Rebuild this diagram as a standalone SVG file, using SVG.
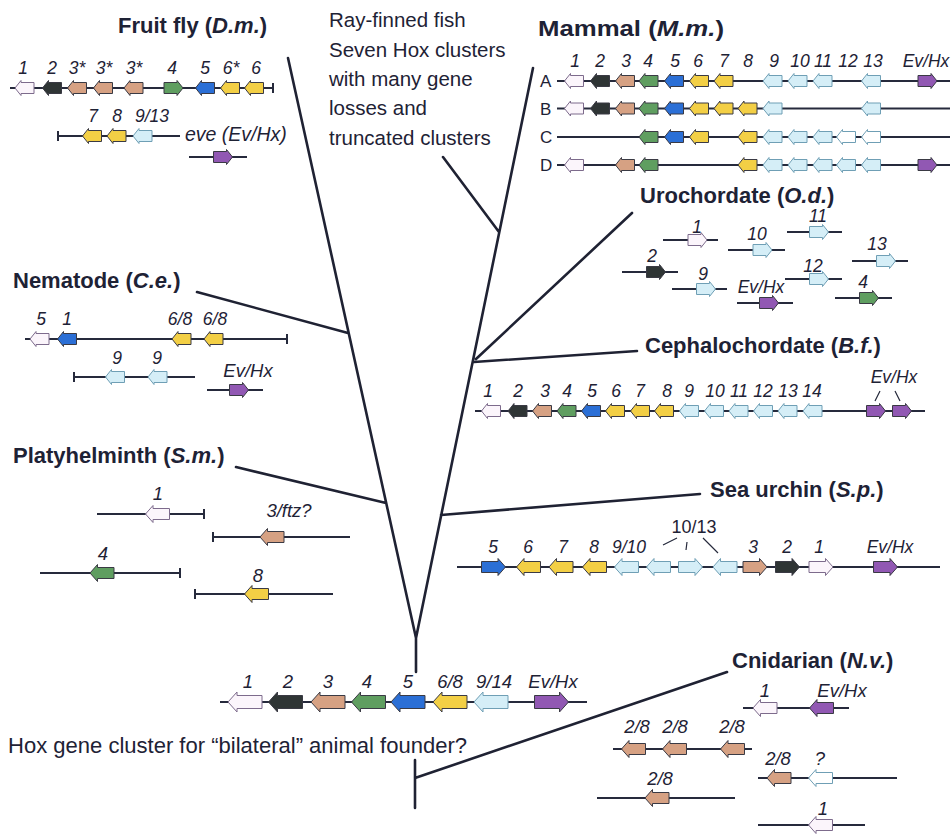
<svg xmlns="http://www.w3.org/2000/svg" xmlns:xlink="http://www.w3.org/1999/xlink" width="951" height="834" viewBox="0 0 951 834">
<style>
text{font-family:"Liberation Sans",Arial,sans-serif;fill:#1e2235}
.t{font-weight:bold;font-size:22px}
.i{font-style:italic}
.n{font-style:italic;font-size:17.5px;text-anchor:middle}
.nb{font-style:italic;font-size:18.5px;text-anchor:middle}
.f{font-size:20.5px}
.ln{stroke:#262a3c;stroke-width:2;fill:none}
.th{stroke:#262a3c;stroke-width:1.2;fill:none}
.tr{stroke:#1f2233;stroke-width:2.6;fill:none;stroke-linecap:round}
use{stroke:#3a3a44;stroke-width:1}
.c1{fill:#fbf5fb;stroke:#7d6b8c}
.c2{fill:#2f3535}
.c3{fill:#d6a183}
.c4{fill:#5f9e60}
.c5{fill:#2b6fd6}
.c6{fill:#f3cf45}
.c9{fill:#d5eef7;stroke:#6f9fb5}
.cw{fill:#ffffff;stroke:#6f9fb5}
.ce{fill:#9158b3}
</style>
<defs>
<path id="sR" d="M-9.5,-5.5H3.5V-7.5L9.5,0L3.5,7.5V5.5H-9.5Z"/>
<path id="sL" d="M9.5,-5.5H-3.5V-7.5L-9.5,0L-3.5,7.5V5.5H9.5Z"/>
<path id="mR" d="M-12,-5.5H4.5V-8.5L12,0L4.5,8.5V5.5H-12Z"/>
<path id="mL" d="M12,-5.5H-4.5V-8.5L-12,0L-4.5,8.5V5.5H12Z"/>
<path id="lR" d="M-17,-6.5H8V-10L17,0L8,10V6.5H-17Z"/>
<path id="lL" d="M17,-6.5H-8V-10L-17,0L-8,10V6.5H17Z"/>
</defs>

<g id="connectors">
<path class="tr" d="M288,58L416,638M533,68L416,638M416,638V672M415,760V808M443,157L499,232M197,292L348,333M236,467L386,503M632,213L476,359M474,362L637,351M441,515L700,494M415,778L727,672"/>
</g>

<g id="fruitfly">
<text class="t" x="118" y="33">Fruit fly (<tspan class="i">D.m.</tspan>)</text>
<path class="ln" d="M10,88H273M273,83V93M58,131V141M58,136H180M189,157H247"/>
<use href="#sL" class="c1" x="24.5" y="88"/>
<use href="#sL" class="c2" x="52" y="88"/>
<use href="#sL" class="c3" x="77" y="88"/>
<use href="#sL" class="c3" x="103" y="88"/>
<use href="#sL" class="c3" x="133.5" y="88"/>
<use href="#sR" class="c4" x="173.5" y="88"/>
<use href="#sL" class="c5" x="205" y="88"/>
<use href="#sL" class="c6" x="230" y="88"/>
<use href="#sL" class="c6" x="254" y="88"/>
<text class="n" y="74"><tspan x="23">1</tspan><tspan x="52">2</tspan><tspan x="77">3*</tspan><tspan x="104">3*</tspan><tspan x="134">3*</tspan><tspan x="172">4</tspan><tspan x="205">5</tspan><tspan x="231">6*</tspan><tspan x="256">6</tspan></text>
<use href="#sL" class="c6" x="92" y="136"/>
<use href="#sL" class="c6" x="116.5" y="136"/>
<use href="#sL" class="c9" x="142.5" y="136"/>
<text class="n" y="122"><tspan x="93">7</tspan><tspan x="117">8</tspan><tspan x="152">9/13</tspan></text>
<text class="i" x="185" y="141" font-size="19.5">eve (Ev/Hx)</text>
<use href="#sR" class="ce" x="223" y="157"/>
</g>

<g id="fish">
<text class="f" x="329" y="27">Ray-finned fish</text>
<text class="f" x="329" y="57">Seven Hox clusters</text>
<text class="f" x="329" y="86">with many gene</text>
<text class="f" x="329" y="115">losses and</text>
<text class="f" x="329" y="145">truncated clusters</text>
</g>

<g id="mammal">
<text class="t" x="538" y="36" textLength="186" lengthAdjust="spacingAndGlyphs">Mammal (<tspan class="i">M.m.</tspan>)</text>
<text class="n" y="67"><tspan x="575">1</tspan><tspan x="600">2</tspan><tspan x="626">3</tspan><tspan x="648">4</tspan><tspan x="675">5</tspan><tspan x="698">6</tspan><tspan x="724">7</tspan><tspan x="748">8</tspan><tspan x="774">9</tspan><tspan x="800">10</tspan><tspan x="823">11</tspan><tspan x="848">12</tspan><tspan x="873">13</tspan><tspan x="926">Ev/Hx</tspan></text>
<g font-size="17">
<text x="540" y="87">A</text><text x="540" y="114.5">B</text><text x="540" y="143">C</text><text x="540" y="171">D</text>
</g>
<path class="ln" d="M557,81H950M557,108.5H950M557,137H950M557,165H950"/>
<use href="#sL" class="c1" x="574" y="81"/>
<use href="#sL" class="c2" x="600" y="81"/>
<use href="#sL" class="c3" x="625" y="81"/>
<use href="#sL" class="c4" x="648.5" y="81"/>
<use href="#sL" class="c5" x="674" y="81"/>
<use href="#sL" class="c6" x="699" y="81"/>
<use href="#sL" class="c6" x="723.5" y="81"/>
<use href="#sL" class="c9" x="772.5" y="81"/>
<use href="#sL" class="c9" x="797.5" y="81"/>
<use href="#sL" class="c9" x="822.5" y="81"/>
<use href="#sL" class="c9" x="871" y="81"/>
<use href="#sR" class="ce" x="927.5" y="81"/>
<use href="#sL" class="c1" x="574" y="108.5"/>
<use href="#sL" class="c2" x="600" y="108.5"/>
<use href="#sL" class="c3" x="625" y="108.5"/>
<use href="#sL" class="c4" x="648.5" y="108.5"/>
<use href="#sL" class="c5" x="674" y="108.5"/>
<use href="#sL" class="c6" x="699" y="108.5"/>
<use href="#sL" class="c6" x="723.5" y="108.5"/>
<use href="#sL" class="c6" x="747.5" y="108.5"/>
<use href="#sL" class="c9" x="772.5" y="108.5"/>
<use href="#sL" class="c9" x="871" y="108.5"/>
<use href="#sL" class="c4" x="648.5" y="137"/>
<use href="#sL" class="c5" x="674" y="137"/>
<use href="#sL" class="c6" x="699" y="137"/>
<use href="#sL" class="c6" x="747.5" y="137"/>
<use href="#sL" class="c9" x="772.5" y="137"/>
<use href="#sL" class="c9" x="797.5" y="137"/>
<use href="#sL" class="c9" x="822.5" y="137"/>
<use href="#sL" class="cw" x="846" y="137"/>
<use href="#sL" class="cw" x="871" y="137"/>
<use href="#sL" class="c1" x="574" y="165"/>
<use href="#sL" class="c3" x="625" y="165"/>
<use href="#sL" class="c4" x="648.5" y="165"/>
<use href="#sL" class="c6" x="747.5" y="165"/>
<use href="#sL" class="c9" x="772.5" y="165"/>
<use href="#sL" class="c9" x="797.5" y="165"/>
<use href="#sL" class="c9" x="822.5" y="165"/>
<use href="#sL" class="c9" x="846" y="165"/>
<use href="#sL" class="c9" x="871" y="165"/>
<use href="#sR" class="ce" x="927.5" y="165"/>
</g>

<g id="urochordate">
<text class="t" x="640" y="203">Urochordate (<tspan class="i">O.d.</tspan>)</text>
<path class="ln" d="M663,240H718M728,250H785M787,232H842M852,261H908M622,272H678M672,289H727M785,279H842M737,303H793M835,298H892"/>
<use href="#sR" class="c1" x="697.5" y="240"/>
<use href="#sR" class="c9" x="762.5" y="250"/>
<use href="#sR" class="c9" x="819" y="232"/>
<use href="#sR" class="c9" x="886" y="261"/>
<use href="#sR" class="c2" x="656" y="272"/>
<use href="#sR" class="c9" x="706" y="289"/>
<use href="#sR" class="c9" x="819" y="279"/>
<use href="#sR" class="ce" x="769" y="303"/>
<use href="#sR" class="c4" x="869" y="298"/>
<text class="n"><tspan x="697" y="233">1</tspan><tspan x="757" y="240">10</tspan><tspan x="818" y="222">11</tspan><tspan x="877" y="250">13</tspan><tspan x="652" y="262">2</tspan><tspan x="703" y="280">9</tspan><tspan x="813" y="272">12</tspan><tspan x="761" y="293">Ev/Hx</tspan><tspan x="863" y="288">4</tspan></text>
</g>

<g id="nematode">
<text class="t" x="13" y="288">Nematode (<tspan class="i">C.e.</tspan>)</text>
<path class="ln" d="M25,339H287M287,334V344M74,372V382M74,377H195M207,390H263"/>
<use href="#sL" class="c1" x="39.5" y="339"/>
<use href="#sL" class="c5" x="67" y="339"/>
<use href="#sL" class="c6" x="181.5" y="339"/>
<use href="#sL" class="c6" x="213.5" y="339"/>
<use href="#sL" class="c9" x="115" y="377"/>
<use href="#sL" class="c9" x="157.5" y="377"/>
<use href="#sR" class="ce" x="239" y="390"/>
<text class="n" y="325"><tspan x="41">5</tspan><tspan x="67">1</tspan><tspan x="180">6/8</tspan><tspan x="215">6/8</tspan></text>
<text class="n" y="364"><tspan x="117">9</tspan><tspan x="157">9</tspan></text>
<text class="nb" x="248" y="377">Ev/Hx</text>
</g>

<g id="cephalochordate">
<text class="t" x="645" y="353">Cephalochordate (<tspan class="i">B.f.</tspan>)</text>
<path class="ln" d="M475,411H925"/>
<path class="th" d="M880,391L875,401M895,391L900,401"/>
<use href="#sL" class="c1" x="491" y="411"/>
<use href="#sL" class="c2" x="517.5" y="411"/>
<use href="#sL" class="c3" x="542" y="411"/>
<use href="#sL" class="c4" x="566.5" y="411"/>
<use href="#sL" class="c5" x="591" y="411"/>
<use href="#sL" class="c6" x="615" y="411"/>
<use href="#sL" class="c6" x="640" y="411"/>
<use href="#sL" class="c6" x="664" y="411"/>
<use href="#sL" class="c9" x="689" y="411"/>
<use href="#sL" class="c9" x="714" y="411"/>
<use href="#sL" class="c9" x="738.5" y="411"/>
<use href="#sL" class="c9" x="763" y="411"/>
<use href="#sL" class="c9" x="787.5" y="411"/>
<use href="#sL" class="c9" x="812.5" y="411"/>
<use href="#sR" class="ce" x="876" y="411"/>
<use href="#sR" class="ce" x="902" y="411"/>
<text class="n" y="397"><tspan x="488">1</tspan><tspan x="518">2</tspan><tspan x="545">3</tspan><tspan x="567">4</tspan><tspan x="592">5</tspan><tspan x="616">6</tspan><tspan x="640">7</tspan><tspan x="667">8</tspan><tspan x="689">9</tspan><tspan x="715">10</tspan><tspan x="739">11</tspan><tspan x="763">12</tspan><tspan x="788">13</tspan><tspan x="812">14</tspan></text>
<text class="n" x="894" y="383">Ev/Hx</text>
</g>

<g id="platyhelminth">
<text class="t" x="13" y="463">Platyhelminth (<tspan class="i">S.m.</tspan>)</text>
<path class="ln" d="M97,514H204M204,509V519M213,532V542M213,537H350M40,573H180M180,568V578M195,589V599M195,594H333"/>
<use href="#mL" class="c1" x="157.5" y="514"/>
<use href="#mL" class="c3" x="272" y="537"/>
<use href="#mL" class="c4" x="102" y="573"/>
<use href="#mL" class="c6" x="256.5" y="594"/>
<text class="nb"><tspan x="158" y="500">1</tspan><tspan x="289" y="517">3/ftz?</tspan><tspan x="103" y="560">4</tspan><tspan x="258" y="582">8</tspan></text>
</g>

<g id="seaurchin">
<text class="t" x="710" y="497">Sea urchin (<tspan class="i">S.p.</tspan>)</text>
<path class="ln" d="M457,567H940"/>
<path class="th" d="M677,538L663,545M687,542L686,550M703,538L718,553"/>
<use href="#mR" class="c5" x="493.5" y="567"/>
<use href="#mL" class="c6" x="528.5" y="567"/>
<use href="#mL" class="c6" x="561" y="567"/>
<use href="#mL" class="c6" x="594.5" y="567"/>
<use href="#mL" class="c9" x="626.5" y="567"/>
<use href="#mL" class="c9" x="658.5" y="567"/>
<use href="#mR" class="c9" x="690.5" y="567"/>
<use href="#mL" class="c9" x="725" y="567"/>
<use href="#mR" class="c3" x="755" y="567"/>
<use href="#mR" class="c2" x="787.5" y="567"/>
<use href="#mR" class="c1" x="821" y="567"/>
<use href="#mR" class="ce" x="885.5" y="567"/>
<text class="n" y="553"><tspan x="493">5</tspan><tspan x="528">6</tspan><tspan x="563">7</tspan><tspan x="594">8</tspan><tspan x="629">9/10</tspan><tspan x="753">3</tspan><tspan x="787">2</tspan><tspan x="819">1</tspan><tspan x="890">Ev/Hx</tspan></text>
<text x="694" y="533" font-size="18" text-anchor="middle">10/13</text>
</g>

<g id="founder">
<path class="ln" d="M220,702H587"/>
<use href="#lL" class="c1" x="245" y="702"/>
<use href="#lL" class="c2" x="285.5" y="702"/>
<use href="#lL" class="c3" x="328" y="702"/>
<use href="#lL" class="c4" x="368.5" y="702"/>
<use href="#lL" class="c5" x="408" y="702"/>
<use href="#lL" class="c6" x="450" y="702"/>
<use href="#lL" class="c9" x="491" y="702"/>
<use href="#lR" class="ce" x="551.5" y="702"/>
<text class="nb" y="688"><tspan x="248">1</tspan><tspan x="288">2</tspan><tspan x="328">3</tspan><tspan x="367">4</tspan><tspan x="408">5</tspan><tspan x="450">6/8</tspan><tspan x="494">9/14</tspan><tspan x="553">Ev/Hx</tspan></text>
<text x="8" y="753" font-size="22" textLength="459" lengthAdjust="spacingAndGlyphs">Hox gene cluster for “bilateral” animal founder?</text>
</g>

<g id="cnidarian">
<text class="t" x="732" y="668">Cnidarian (<tspan class="i">N.v.</tspan>)</text>
<path class="ln" d="M743,708H849" stroke-width="3"/>
<path class="ln" d="M613,749H752M758,778H897M597,798H735M758,825H865"/>
<use href="#mL" class="c1" x="765" y="708"/>
<use href="#mL" class="ce" x="821.5" y="708"/>
<use href="#mL" class="c3" x="633.5" y="749"/>
<use href="#mL" class="c3" x="674.5" y="749"/>
<use href="#mL" class="c3" x="732.5" y="749"/>
<use href="#mL" class="c3" x="779" y="778"/>
<use href="#mL" class="cw" x="820.5" y="778"/>
<use href="#mL" class="c3" x="657" y="798"/>
<use href="#mL" class="c1" x="820.5" y="825"/>
<text class="nb"><tspan x="765" y="697">1</tspan><tspan x="842" y="697">Ev/Hx</tspan><tspan x="637" y="733">2/8</tspan><tspan x="675" y="733">2/8</tspan><tspan x="732" y="733">2/8</tspan><tspan x="778" y="765">2/8</tspan><tspan x="820" y="765">?</tspan><tspan x="660" y="785">2/8</tspan><tspan x="823" y="815">1</tspan></text>
</g>
</svg>
